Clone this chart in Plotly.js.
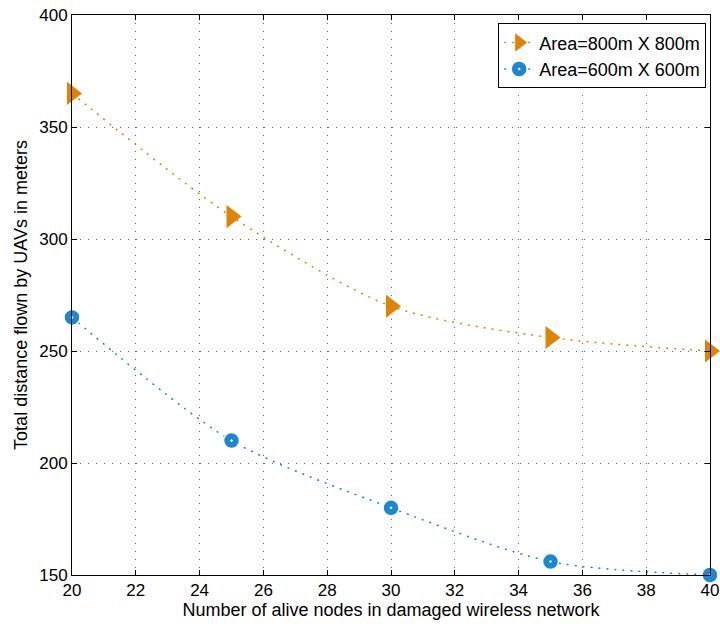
<!DOCTYPE html>
<html><head><meta charset="utf-8">
<script src="https://cdn.plot.ly/plotly-3.0.1.min.js"></script>
<style>body{margin:0;background:#fff}#chart{width:720px;height:624px}</style>
</head><body><div id="chart"></div>
<script>
const nodes = [20, 25, 30, 35, 40];
const area800 = [365, 310, 270, 256, 250];
const area600 = [265, 210, 180, 156, 150];
const names = ['Area=800m X 800m', 'Area=600m X 600m'];
const orange = '#DE8303';
const blue = '#1A87CF';

const traces = [
  {x: nodes, y: area800, name: names[0], mode: 'lines+markers', type: 'scatter',
   line: {color: orange, dash: '2px,6px', width: 1.5, shape: 'spline', smoothing: 0.8},
   marker: {symbol: 'triangle-right', size: 20, color: orange}, cliponaxis: false},
  {x: nodes, y: area600, name: names[1], mode: 'lines+markers', type: 'scatter',
   line: {color: blue, dash: '2px,6px', width: 1.5, shape: 'spline', smoothing: 0.8},
   marker: {symbol: 'circle-dot', size: 16, color: blue, line: {color: '#ffffff', width: 1.5}}, cliponaxis: false}
];

const axisCommon = {
  showline: true, linecolor: '#000', linewidth: 1, mirror: 'ticks',
  ticks: 'inside', ticklen: 5, tickcolor: '#000',
  showgrid: true, gridcolor: '#666', griddash: '1px,7px', gridwidth: 1,
  zeroline: false, tickfont: {size: 17, color: '#000'}
};

const layout = {
  width: 720, height: 624,
  margin: {l: 72, r: 10, t: 15, b: 49},
  paper_bgcolor: '#fff', plot_bgcolor: '#fff',
  font: {family: 'Liberation Sans, Arial, sans-serif', color: '#000'},
  showlegend: true,
  legend: {x: 0.994, y: 0.985, xanchor: 'right', yanchor: 'top', bordercolor: '#000', borderwidth: 1,
           bgcolor: '#fff', font: {size: 18}, tracegroupgap: 0},
  xaxis: Object.assign({}, axisCommon, {range: [20, 40], dtick: 2, tick0: 20,
    title: {text: 'Number of alive nodes in damaged wireless network', font: {size: 18}, standoff: 1}}),
  yaxis: Object.assign({}, axisCommon, {range: [150, 400], dtick: 50,
    title: {text: 'Total distance flown by UAVs in meters', font: {size: 18}, standoff: 6}})
};
Plotly.newPlot('chart', traces, layout, {displayModeBar: false, staticPlot: true});
</script></body></html>
